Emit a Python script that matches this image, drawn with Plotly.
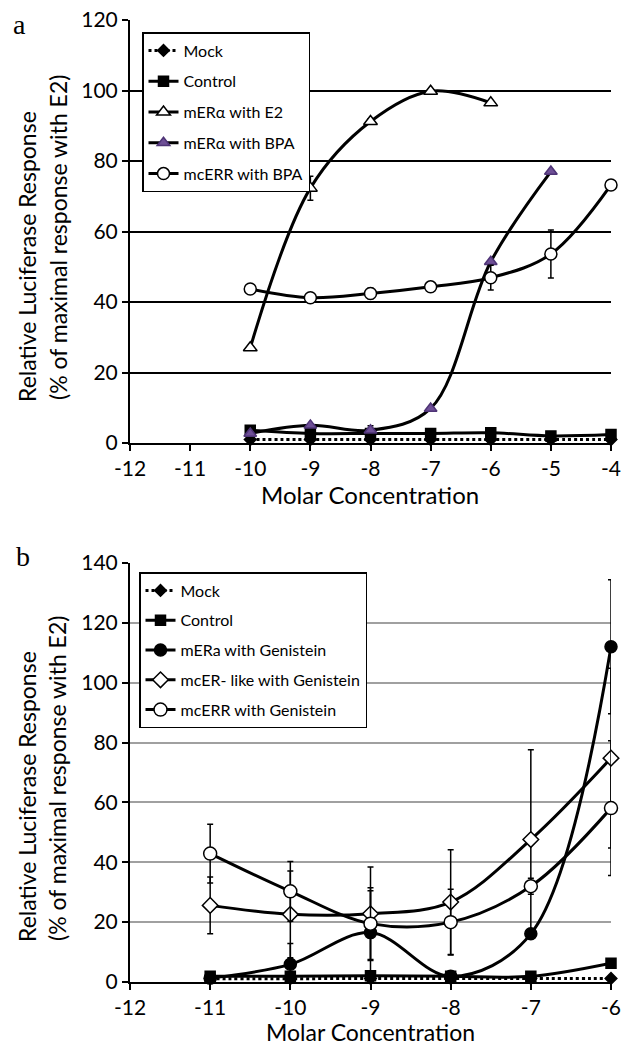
import plotly.graph_objects as go

# ---------------- Data: panel a ----------------
xa_e2 = [-10, -9, -8, -7, -6]
e2_vals = [27.0, 72.3, 91.2, 99.8, 96.5]
e2_err = [0, 3.4, 0.8, 0, 0]

xa_bpa = [-10, -9, -8, -7, -6, -5]
bpa_vals = [2.7, 5.0, 3.6, 9.8, 51.4, 77.0]
bpa_err = [0, 0, 1.3, 0, 0, 0]

xa_all = [-10, -9, -8, -7, -6, -5, -4]
mcerr_bpa_vals = [43.7, 41.2, 42.4, 44.3, 46.9, 53.6, 73.2]
mcerr_bpa_err = [0, 0, 1.5, 0, 3.5, 6.8, 0]
control_a = [3.6, 2.7, 2.7, 2.7, 2.9, 2.0, 2.4]
mock_a = [1.0, 1.0, 1.0, 1.0, 1.0, 1.0, 1.0]

# ---------------- Data: panel b ----------------
xb = [-11, -10, -9, -8, -7, -6]
mock_b = [1.1, 1.1, 1.2, 1.2, 1.2, 1.2]
control_b = [1.9, 1.9, 2.1, 1.9, 1.9, 6.3]
mera_gen = [1.3, 5.9, 16.5, 1.9, 16.1, 112.0]
mera_gen_err = [0, 7.0, 14.0, 1.0, 1.0, 22.4]
mcerlike_gen = [25.6, 22.6, 22.8, 26.7, 47.6, 74.8]
mcerlike_gen_err = [9.5, 14.5, 15.6, 17.5, 30.0, 30.0]
mcerr_gen = [42.9, 30.3, 19.5, 20.0, 32.0, 58.1]
mcerr_gen_err = [9.8, 10.0, 12.0, 11.0, 2.7, 22.5]

ticks_a = [-12, -11, -10, -9, -8, -7, -6, -5, -4]
ticks_b = [-12, -11, -10, -9, -8, -7, -6]

FONT = "Lato"
W, H = 621, 1048
L, R = 130, 10
PW = W - L - R


def px(x):
    return (x - L) / PW


def py(y):
    return 1 - y / H


fig = go.Figure()


def add(x, y, name, xa, ya, leg, symbol, size, fill, lcolor="black",
        dash="solid", width=3, err=None, mline="black"):
    fig.add_trace(go.Scatter(
        x=x, y=y, name=name, xaxis=xa, yaxis=ya, legend=leg,
        legendgroup=name + leg,
        mode="lines+markers",
        line=dict(color=lcolor, width=width, dash=dash, shape="spline", smoothing=1.0),
        marker=dict(symbol=symbol, size=size, color=fill,
                    line=dict(color=mline, width=1.5)),
        error_y=dict(type="data", array=err, visible=err is not None,
                     color="black", thickness=1.5, width=3),
        cliponaxis=False,
    ))


# panel a
add(xa_all, mock_a, "Mock", "x", "y", "legend", "diamond", 9, "black", dash="dot")
add(xa_all, control_a, "Control", "x", "y", "legend", "square", 10, "black")
add(xa_e2, e2_vals, "mERα with E2", "x", "y", "legend", "triangle-up", 12, "white", err=e2_err)
add(xa_bpa, bpa_vals, "mERα with BPA", "x", "y", "legend", "triangle-up", 11, "#6e4f96",
    err=bpa_err, mline="#4e3476")
add(xa_all, mcerr_bpa_vals, "mcERR with BPA", "x", "y", "legend", "circle", 12, "white",
    err=mcerr_bpa_err)

# panel b
add(xb, mock_b, "Mock", "x2", "y2", "legend2", "diamond", 9, "black", dash="dot")
add(xb, control_b, "Control", "x2", "y2", "legend2", "square", 10, "black")
add(xb, mera_gen, "mERa with Genistein", "x2", "y2", "legend2", "circle", 12, "black",
    err=mera_gen_err)
add(xb, mcerlike_gen, "mcER- like with Genistein", "x2", "y2", "legend2", "diamond", 12, "white",
    err=mcerlike_gen_err)
add(xb, mcerr_gen, "mcERR with Genistein", "x2", "y2", "legend2", "circle", 13, "white",
    err=mcerr_gen_err)

tickfont = dict(family=FONT, size=21, color="black")
axis_common = dict(showline=True, linecolor="black", linewidth=2, ticks="outside",
                   tickcolor="black", ticklen=6, tickwidth=1.5, tickfont=tickfont,
                   zeroline=False, fixedrange=True, automargin=False)

fig.update_layout(
    width=W, height=H,
    margin=dict(l=L, r=R, t=0, b=0, autoexpand=False),
    paper_bgcolor="white", plot_bgcolor="white",
    font=dict(family=FONT, color="black"),
    xaxis=dict(domain=[0, 1], anchor="y", range=[-12, -4], tickvals=ticks_a,
               ticktext=[str(t) for t in ticks_a], showgrid=False, **axis_common),
    yaxis=dict(domain=[py(443), py(20)], anchor="x", range=[0, 120], dtick=20,
               showgrid=True, gridcolor="black", gridwidth=1.5, **axis_common),
    xaxis2=dict(domain=[0, 1], anchor="y2", range=[-12, -6], tickvals=ticks_b,
                ticktext=[str(t) for t in ticks_b], showgrid=False, **axis_common),
    yaxis2=dict(domain=[py(982), py(563)], anchor="x2", range=[0, 140], dtick=20,
                showgrid=True, gridcolor="#a0a0a0", gridwidth=2, **axis_common),
    legend=dict(x=px(142), y=py(32), xanchor="left", yanchor="top",
                bordercolor="black", borderwidth=1.5, bgcolor="white",
                font=dict(family=FONT, size=16, color="black"),
                tracegroupgap=7, itemwidth=30),
    legend2=dict(x=px(139), y=py(572), xanchor="left", yanchor="top",
                 bordercolor="black", borderwidth=1.5, bgcolor="white",
                 font=dict(family=FONT, size=16, color="black"),
                 tracegroupgap=6, itemwidth=30),
)

ann = []
# panel letters
ann.append(dict(text="a", x=px(19), y=py(24), xref="paper", yref="paper", showarrow=False,
                xanchor="center", yanchor="middle",
                font=dict(family="Liberation Serif", size=28, color="black")))
ann.append(dict(text="b", x=px(23), y=py(556), xref="paper", yref="paper", showarrow=False,
                xanchor="center", yanchor="middle",
                font=dict(family="Liberation Serif", size=28, color="black")))
# y titles
for (cx, cy, t) in [(27, 257, "Relative Luciferase Response"),
                    (58, 238, "(% of maximal response with E2)"),
                    (27, 797, "Relative Luciferase Response"),
                    (57, 779, "(% of maximal response with E2)")]:
    ann.append(dict(text=t, x=px(cx), y=py(cy), xref="paper", yref="paper", showarrow=False,
                    textangle=-90, xanchor="center", yanchor="middle",
                    font=dict(family=FONT, size=23, color="black")))
# x titles
ann.append(dict(text="Molar Concentration", x=px(370), y=py(494), xref="paper", yref="paper",
                showarrow=False, xanchor="center", yanchor="middle",
                font=dict(family=FONT, size=24, color="black")))
ann.append(dict(text="Molar Concentration", x=px(370), y=py(1048), xref="paper", yref="paper",
                showarrow=False, xanchor="center", yanchor="bottom",
                font=dict(family=FONT, size=23, color="black")))
fig.update_layout(annotations=ann)

fig.write_html("out.html")
